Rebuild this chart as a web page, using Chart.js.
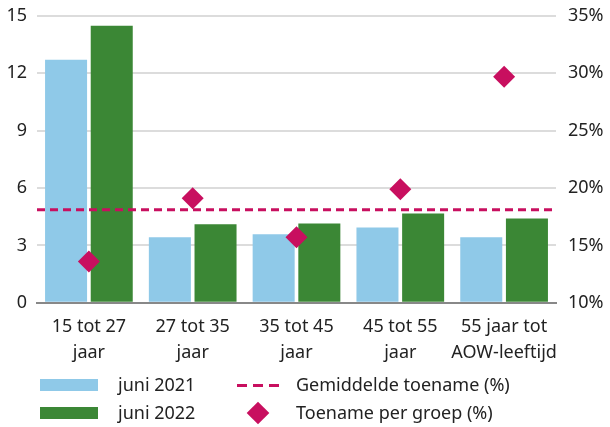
<!DOCTYPE html>
<html>
<head>
<meta charset="utf-8">
<script src="https://cdn.jsdelivr.net/npm/chart.js@4"></script>
<style>
    body { margin: 0; background: #fff; font-family: "Noto Sans", sans-serif; color: #222; }
    #wrap { position: absolute; left: 0; top: -7px; width: 610px; height: 384px; }
    .lg { position: absolute; font-size: 18px; line-height: 22px; }
    .sw { position: absolute; }
</style>
</head>
<body>
<div id="wrap"><canvas id="myChart"></canvas></div>
<div id="legend"></div>
<script>
// Categorieën en waarden
const categories = [['15 tot 27', 'jaar'], ['27 tot 35', 'jaar'], ['35 tot 45', 'jaar'], ['45 tot 55', 'jaar'], ['55 jaar tot', 'AOW-leeftijd']];
const juni2021 = [12.7, 3.43, 3.58, 3.94, 3.43];
const juni2022 = [14.48, 4.1, 4.15, 4.67, 4.41];
const toenamePerGroep = [13.6, 19.1, 15.7, 19.9, 29.7];
const gemiddeldeToename = 18.1;
const leftTicks = [0, 3, 6, 9, 12, 15];
const rightTicks = [10, 15, 20, 25, 30, 35];

const blue = '#8fc9e8';
const green = '#3b8735';
const magenta = '#c80f5f';
const font = { family: 'Noto Sans', size: 18, lineHeight: 1.45 };

// Gemiddelde toename: stippellijn over de hele breedte, via de rechter as
const gemiddeldeLijn = {
    id: 'gemiddeldeLijn',
    beforeDatasetDraw(chart, args) {
        if (args.index !== 2) return;
        const { ctx, chartArea } = chart;
        const yPix = chart.scales.y1.getPixelForValue(gemiddeldeToename);
        ctx.save();
        ctx.strokeStyle = magenta;
        ctx.lineWidth = 3;
        ctx.setLineDash([8, 5]);
        ctx.beginPath();
        ctx.moveTo(chartArea.left, yPix);
        ctx.lineTo(chartArea.right, yPix);
        ctx.stroke();
        ctx.restore();
    }
};

const ctx = document.getElementById('myChart').getContext('2d');
const myChart = new Chart(ctx, {
    type: 'bar',
    data: {
        labels: categories,
        datasets: [
            { type: 'bar', label: 'juni 2021', data: juni2021, backgroundColor: blue, order: 3, xAxisID: 'x', yAxisID: 'y' },
            { type: 'bar', label: 'juni 2022', data: juni2022, backgroundColor: green, order: 3, xAxisID: 'x', yAxisID: 'y' },
            {
                type: 'line', label: 'Toename per groep (%)', data: toenamePerGroep,
                xAxisID: 'x', yAxisID: 'y1', showLine: false, pointStyle: 'rectRot', pointRadius: 11,
                backgroundColor: magenta, borderColor: magenta, borderWidth: 0, order: 1
            }
        ]
    },
    options: {
        responsive: true,
        maintainAspectRatio: false,
        animation: false,
        layout: { padding: 0 },
        datasets: { bar: { categoryPercentage: 0.88, barPercentage: 0.92 } },
        plugins: { legend: { display: false }, tooltip: { enabled: false } },
        scales: {
            x: {
                type: 'category',
                grid: { display: false, drawTicks: false },
                border: { color: '#888', width: 2 },
                ticks: { color: '#222', font: font, padding: 11, maxRotation: 0, autoSkip: false }
            },
            y: {
                position: 'left', min: 0, max: 15,
                afterBuildTicks: s => { s.ticks = leftTicks.map(v => ({ value: v })); },
                afterFit: s => { s.width = 37; },
                grid: { color: '#dcdcdc', lineWidth: 2, drawTicks: false },
                border: { display: false },
                ticks: { color: '#222', font: { family: 'Noto Sans', size: 18 }, padding: 10 }
            },
            y1: {
                position: 'right', min: 10, max: 35,
                afterBuildTicks: s => { s.ticks = rightTicks.map(v => ({ value: v })); },
                afterFit: s => { s.width = 54; },
                grid: { display: false, drawTicks: false },
                border: { display: false },
                ticks: { color: '#222', font: { family: 'Noto Sans', size: 18 }, padding: 12, callback: v => v + '%' }
            }
        }
    },
    plugins: [gemiddeldeLijn]
});

// Legenda in HTML, twee kolommen
const legend = document.getElementById('legend');
const items = [
    { text: 'juni 2021', x: 40, y: 385, kind: 'box', color: blue },
    { text: 'juni 2022', x: 40, y: 413, kind: 'box', color: green },
    { text: 'Gemiddelde toename (%)', x: 237, y: 385, kind: 'dash', color: magenta },
    { text: 'Toename per groep (%)', x: 237, y: 413, kind: 'diamond', color: magenta }
];
items.forEach(it => {
    const sw = document.createElement('div');
    sw.className = 'sw';
    if (it.kind === 'box') {
        sw.style.cssText = `left:${it.x}px;top:${it.y - 6}px;width:58px;height:12px;background:${it.color}`;
    } else if (it.kind === 'dash') {
        sw.style.cssText = `left:${it.x}px;top:${it.y - 1}px;width:42px;height:3px;` +
            `background:repeating-linear-gradient(to right, ${it.color} 0 10px, transparent 10px 16px)`;
    } else {
        sw.style.cssText = `left:${it.x + 13}px;top:${it.y - 8}px;width:16px;height:16px;background:${it.color};transform:rotate(45deg)`;
    }
    legend.appendChild(sw);
    const t = document.createElement('div');
    t.className = 'lg';
    t.textContent = it.text;
    t.style.left = (it.kind === 'box' ? it.x + 78 : it.x + 59) + 'px';
    t.style.top = (it.y - 12) + 'px';
    legend.appendChild(t);
});
</script>
</body>
</html>
